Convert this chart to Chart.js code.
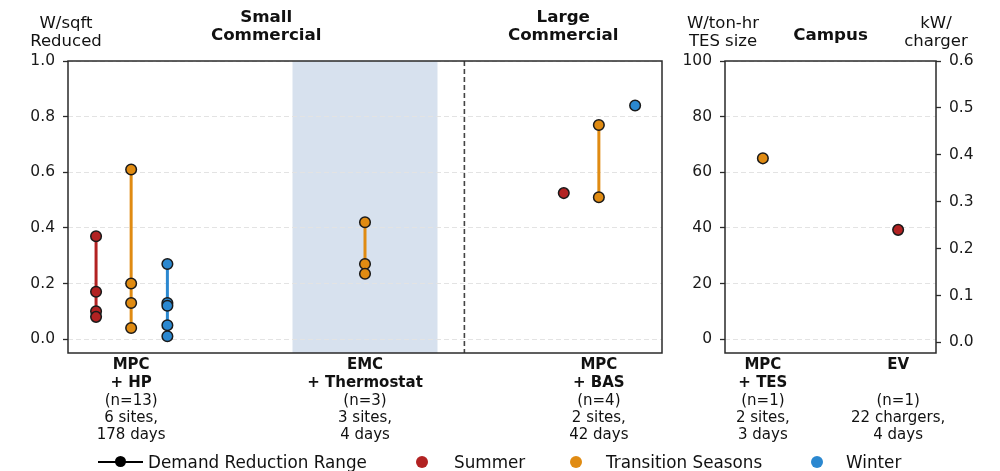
<!DOCTYPE html>
<html>
<head>
<meta charset="utf-8">
<script src="https://cdn.jsdelivr.net/npm/chart.js@4.4.1/dist/chart.umd.min.js"></script>
<style>
    html, body {
        margin: 0;
        padding: 0;
        background: #ffffff;
    }

    #figure {
        position: relative;
        width: 1000px;
        height: 471px;
        font-family: "DejaVu Sans", sans-serif;
        color: #111111;
    }

    #leftBox {
        position: absolute;
        left: 0;
        top: 0;
        width: 680px;
        height: 471px;
    }

    #rightBox {
        position: absolute;
        left: 680px;
        top: 0;
        width: 320px;
        height: 471px;
    }

    .legend-item {
        position: absolute;
        top: 451px;
        height: 22px;
        line-height: 22px;
        font-size: 16.8px;
        white-space: nowrap;
    }

    .legend-dot {
        position: absolute;
        width: 12px;
        height: 12px;
        border-radius: 50%;
        top: 456px;
    }
</style>
</head>
<body>
<div id="figure">
    <div id="leftBox"><canvas id="commercialChart"></canvas></div>
    <div id="rightBox"><canvas id="campusChart"></canvas></div>

    <div style="position:absolute; left:98px; top:461px; width:45px; height:2px; background:#000;"></div>
    <div class="legend-dot" style="left:115px; top:456px; width:11px; height:11px; background:#000;"></div>
    <div class="legend-item" style="left:148px;">Demand Reduction Range</div>

    <div class="legend-dot" style="left:416px; background:#B22222;"></div>
    <div class="legend-item" style="left:454px;">Summer</div>

    <div class="legend-dot" style="left:570px; background:#E08B12;"></div>
    <div class="legend-item" style="left:606px;">Transition Seasons</div>

    <div class="legend-dot" style="left:811px; background:#2B88D0;"></div>
    <div class="legend-item" style="left:846px;">Winter</div>
</div>

<script>
// Small / large commercial panel (W/sqft reduced)
const commercialTitles = [["MPC", "+ HP"], ["EMC", "+ Thermostat"], ["MPC", "+ BAS"]];
const commercialNotes = [
    ["(n=13)", "6 sites,", "178 days"],
    ["(n=3)", "3 sites,", "4 days"],
    ["(n=4)", "2 sites,", "42 days"]
];
const summerCommercial = [[0.37, 0.17, 0.10, 0.08], [], [0.525]];
const transitionCommercial = [[0.61, 0.20, 0.13, 0.04], [0.42, 0.27, 0.235], [0.77, 0.51]];
const winterCommercial = [[0.27, 0.13, 0.12, 0.05, 0.01], [], [0.84]];
const commercialTicks = [0, 0.2, 0.4, 0.6, 0.8, 1.0];

// Campus panel
const campusTitles = [["MPC", "+ TES"], ["EV", ""]];
const campusNotes = [
    ["(n=1)", "2 sites,", "3 days"],
    ["(n=1)", "22 chargers,", "4 days"]
];
const tesTransition = [65];     // W/ton-hr TES size
const evSummer = [0.24];        // kW/charger
const tesTicks = [0, 20, 40, 60, 80, 100];
const chargerTicks = [0, 0.1, 0.2, 0.3, 0.4, 0.5, 0.6];

const COLORS = {
    summer: "#B22222",
    transition: "#E08B12",
    winter: "#2B88D0"
};

const SEASON_OFFSET = { summer: -0.15, transition: 0, winter: 0.155 };
const EMC_BAND = [0.69, 1.31];
const SIZE_DIVIDER = 1.425;

const FONT = '"DejaVu Sans", sans-serif';
const TEXT_COLOR = "#111111";
const FRAME_COLOR = "#2a2a2a";

Chart.defaults.font.family = FONT;
Chart.defaults.color = TEXT_COLOR;


function seasonDatasets(values, season, yAxisID) {
    const datasets = [];

    values.forEach(function (group, groupIndex) {
        if (group.length === 0) {
            return;
        }

        const x = groupIndex + SEASON_OFFSET[season];

        if (group.length > 1) {
            datasets.push({
                data: [
                    { x: x, y: Math.min.apply(null, group) },
                    { x: x, y: Math.max.apply(null, group) }
                ],
                showLine: true,
                borderColor: COLORS[season],
                borderWidth: 3,
                pointRadius: 0,
                yAxisID: yAxisID,
                order: 2
            });
        }

        datasets.push({
            data: group.map(function (value) {
                return { x: x, y: value };
            }),
            backgroundColor: COLORS[season],
            borderColor: "#1a1a1a",
            borderWidth: 1.5,
            pointRadius: 5.3,
            yAxisID: yAxisID,
            order: 1
        });
    });

    return datasets;
}


function drawLines(ctx, lines, x, y, font) {
    ctx.font = font;
    lines.forEach(function (line, index) {
        ctx.fillText(line, x, y[index]);
    });
}


function drawCategoryLabels(chart, titles, notes) {
    const ctx = chart.ctx;
    const xScale = chart.scales.x;

    ctx.save();
    ctx.fillStyle = TEXT_COLOR;
    ctx.textAlign = "center";
    ctx.textBaseline = "middle";

    titles.forEach(function (title, index) {
        const cx = xScale.getPixelForValue(index);
        drawLines(ctx, title, cx, [365, 383], "bold 15px " + FONT);
        drawLines(ctx, notes[index], cx, [401, 418, 435], "15px " + FONT);
    });

    ctx.restore();
}


function drawFrame(chart) {
    const area = chart.chartArea;
    const ctx = chart.ctx;

    ctx.save();
    ctx.strokeStyle = FRAME_COLOR;
    ctx.lineWidth = 1.5;
    ctx.strokeRect(area.left, area.top, area.right - area.left, area.bottom - area.top);
    ctx.restore();
}


const commercialDecor = {
    id: "commercialDecor",

    beforeDraw: function (chart) {
        const ctx = chart.ctx;
        const area = chart.chartArea;
        const xScale = chart.scales.x;
        const bandLeft = xScale.getPixelForValue(EMC_BAND[0]);
        const bandRight = xScale.getPixelForValue(EMC_BAND[1]);

        ctx.save();
        ctx.fillStyle = "rgba(176, 196, 222, 0.5)";
        ctx.fillRect(bandLeft, area.top, bandRight - bandLeft, area.bottom - area.top);
        ctx.restore();
    },

    beforeDatasetsDraw: function (chart) {
        const ctx = chart.ctx;
        const area = chart.chartArea;
        const dividerX = chart.scales.x.getPixelForValue(SIZE_DIVIDER);

        ctx.save();
        ctx.strokeStyle = "#444444";
        ctx.lineWidth = 1.6;
        ctx.setLineDash([5, 3]);
        ctx.beginPath();
        ctx.moveTo(dividerX, area.top);
        ctx.lineTo(dividerX, area.bottom);
        ctx.stroke();
        ctx.restore();
    },

    afterDraw: function (chart) {
        const ctx = chart.ctx;
        const area = chart.chartArea;
        const dividerX = chart.scales.x.getPixelForValue(SIZE_DIVIDER);

        drawFrame(chart);
        drawCategoryLabels(chart, commercialTitles, commercialNotes);

        ctx.save();
        ctx.fillStyle = TEXT_COLOR;
        ctx.textAlign = "center";
        ctx.textBaseline = "middle";

        drawLines(ctx, ["W/sqft", "Reduced"], area.left - 2, [24, 42], "16.5px " + FONT);
        drawLines(ctx, ["Small", "Commercial"], (area.left + dividerX) / 2, [18, 36], "bold 16.7px " + FONT);
        drawLines(ctx, ["Large", "Commercial"], (dividerX + area.right) / 2, [18, 36], "bold 16.7px " + FONT);

        ctx.restore();
    }
};


const campusDecor = {
    id: "campusDecor",

    afterDraw: function (chart) {
        const ctx = chart.ctx;
        const area = chart.chartArea;

        drawFrame(chart);
        drawCategoryLabels(chart, campusTitles, campusNotes);

        ctx.save();
        ctx.fillStyle = TEXT_COLOR;
        ctx.textAlign = "center";
        ctx.textBaseline = "middle";

        drawLines(ctx, ["W/ton-hr", "TES size"], area.left - 2, [24, 42], "16.5px " + FONT);
        drawLines(ctx, ["Campus"], (area.left + area.right) / 2, [36], "bold 16.7px " + FONT);
        drawLines(ctx, ["kW/", "charger"], area.right, [24, 42], "16.5px " + FONT);

        ctx.restore();
    }
};


function valueAxis(ticks, min, max, width, position, decimals, showGrid) {
    return {
        type: "linear",
        position: position,
        min: min,
        max: max,
        afterBuildTicks: function (scale) {
            scale.ticks = ticks.map(function (value) {
                return { value: value };
            });
        },
        afterFit: function (scale) {
            scale.width = width;
        },
        ticks: {
            padding: 8,
            color: "#1a1a1a",
            font: { size: 15.5 },
            callback: function (value) {
                return Number(value).toFixed(decimals);
            }
        },
        grid: {
            display: true,
            drawOnChartArea: showGrid,
            color: "#e3e3e3",
            lineWidth: 1,
            tickLength: 5,
            tickColor: FRAME_COLOR,
            tickWidth: 1.3
        },
        border: {
            display: false,
            dash: [5, 3]
        }
    };
}


function categoryAxis(min, max) {
    return {
        type: "linear",
        min: min,
        max: max,
        afterFit: function (scale) {
            scale.height = 118;
        },
        ticks: { display: false },
        grid: { display: false },
        border: { display: false }
    };
}


const sharedOptions = {
    responsive: true,
    maintainAspectRatio: false,
    animation: false,
    events: [],
    plugins: {
        legend: { display: false },
        tooltip: { enabled: false }
    }
};


new Chart(document.getElementById("commercialChart"), {
    type: "scatter",
    data: {
        datasets: []
            .concat(seasonDatasets(summerCommercial, "summer", "y"))
            .concat(seasonDatasets(transitionCommercial, "transition", "y"))
            .concat(seasonDatasets(winterCommercial, "winter", "y"))
    },
    options: Object.assign({}, sharedOptions, {
        layout: { padding: { top: 61, right: 18, left: 0, bottom: 0 } },
        scales: {
            x: categoryAxis(-0.27, 2.27),
            y: valueAxis(commercialTicks, -0.05, 1.0, 68, "left", 1, true)
        }
    }),
    plugins: [commercialDecor]
});


new Chart(document.getElementById("campusChart"), {
    type: "scatter",
    data: {
        datasets: []
            .concat(seasonDatasets([tesTransition], "transition", "y"))
            .concat(seasonDatasets([[], evSummer], "summer", "y2").map(function (dataset) {
                dataset.data.forEach(function (point) {
                    point.x = 1;
                });
                return dataset;
            }))
    },
    options: Object.assign({}, sharedOptions, {
        layout: { padding: { top: 61, right: 0, left: 0, bottom: 0 } },
        scales: {
            x: categoryAxis(-0.28, 1.28),
            y: valueAxis(tesTicks, -5, 100, 45, "left", 0, true),
            y2: valueAxis(chargerTicks, -0.0225, 0.6, 64, "right", 1, false)
        }
    }),
    plugins: [campusDecor]
});
</script>
</body>
</html>
